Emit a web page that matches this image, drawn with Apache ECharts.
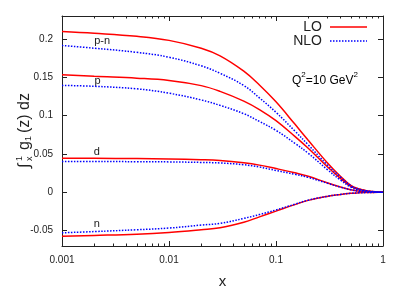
<!DOCTYPE html>
<html><head><meta charset="utf-8">
<script src="https://cdn.jsdelivr.net/npm/echarts@6/dist/echarts.min.js"></script>
<style>html,body{margin:0;padding:0;background:#fff}#c{width:415px;height:291px}</style>
</head><body><div id="c"></div>
<script>
// ---- data ----
const xs = [0.001,0.002,0.005,0.01,0.02,0.03,0.05,0.07,0.1,0.15,0.2,0.3,0.4,0.5,0.6,0.7,0.8,0.9,1.0];
const pnLO  = [0.2098,0.2075,0.2035,0.1982,0.188,0.178,0.158,0.140,0.118,0.089,0.068,0.039,0.021,0.009,0.0045,0.0022,0.001,0.0003,0];
const pLO   = [0.1535,0.1513,0.1489,0.1459,0.1392,0.1317,0.119,0.108,0.0935,0.073,0.0575,0.0337,0.0183,0.0078,0.0039,0.0019,0.0009,0.0003,0];
const dLO   = [0.0445,0.0444,0.0441,0.0436,0.0426,0.0415,0.0385,0.0355,0.031,0.0255,0.021,0.0125,0.007,0.0035,0.0015,0.0007,0.0003,0.0001,0];
const nLO   = [-0.0572,-0.0562,-0.0546,-0.0523,-0.0488,-0.0463,-0.039,-0.032,-0.0245,-0.016,-0.0105,-0.0053,-0.0027,-0.0012,-0.0006,-0.0003,-0.0001,0,0];
const pnNLO = [0.1915,0.188,0.1826,0.1762,0.165,0.1553,0.1394,0.1232,0.1044,0.080,0.062,0.036,0.020,0.0088,0.004,0.002,0.001,0.0003,0];
const pNLO  = [0.1395,0.1383,0.135,0.1293,0.1205,0.1134,0.1026,0.0924,0.0808,0.064,0.051,0.030,0.016,0.007,0.003,0.0015,0.0007,0.0002,0];
const dNLO  = [0.0401,0.0401,0.040,0.0397,0.039,0.0383,0.036,0.033,0.0285,0.0235,0.0195,0.012,0.0068,0.0034,0.0015,0.0007,0.0003,0.0001,0];
const nNLO  = [-0.0528,-0.0512,-0.0488,-0.0466,-0.0427,-0.0405,-0.034,-0.029,-0.023,-0.0155,-0.0102,-0.0052,-0.0027,-0.0012,-0.0006,-0.0003,-0.0001,0,0];

const xMajor = [0.001,0.01,0.1,1];
const xMajorLabels = ['0.001','0.01','0.1','1'];
const xMinor = [0.002,0.003,0.004,0.005,0.006,0.007,0.008,0.009,0.02,0.03,0.04,0.05,0.06,0.07,0.08,0.09,0.2,0.3,0.4,0.5,0.6,0.7,0.8,0.9];
const yTicks = [-0.05,0,0.05,0.1,0.15,0.2];
const curveNames = ['p-n','p','d','n'];
const curveLabelX = [0.00237,0.00215,0.00212,0.00212];
const curveLabelY = [0.198,0.1457,0.0521,-0.0408];

const FONT = '"Liberation Sans", Arial, Helvetica, sans-serif';
const INK = '#222';
const RED = '#ff0000';
const BLUE = '#0000ff';

const chart = echarts.init(document.getElementById('c'), null, {renderer:'canvas'});
const gridRect = {left:62, right:32, top:16, bottom:45, containLabel:false, outerBoundsMode:'none'};

function xAxisDef(gridIndex, position, values, len, showLine, labels) {
  return {
    type:'log', logBase:10, gridIndex, position, min:0.001, max:1,
    axisLine:{show:showLine, onZero:false, lineStyle:{color:INK, width:1}},
    axisTick:{show:true, inside:true, length:len, customValues:values, lineStyle:{color:INK, width:1}},
    axisLabel:labels ? {
      show:true, customValues:xMajor, margin:9, fontSize:10, color:INK, fontFamily:FONT,
      formatter:v => xMajorLabels[Math.round(Math.log10(v)) + 3]
    } : {show:false},
    splitLine:{show:false}, minorTick:{show:false}, minorSplitLine:{show:false},
    name: labels ? 'x' : '', nameLocation:'middle', nameGap:28,
    nameTextStyle:{fontSize:15, color:INK, fontFamily:FONT}
  };
}
function yAxisDef(gridIndex, position, showTicks, labels) {
  return {
    type:'value', gridIndex, position, min:-0.07, max:0.23,
    axisLine:{show:showTicks, onZero:false, lineStyle:{color:INK, width:1}},
    axisTick:{show:showTicks, inside:true, length:5, customValues:yTicks, lineStyle:{color:INK, width:1}},
    axisLabel:labels ? {
      show:true, customValues:yTicks, margin:9, fontSize:10, color:INK, fontFamily:FONT,
      formatter:v => String(parseFloat(v.toFixed(3)))
    } : {show:false},
    splitLine:{show:false}
  };
}

function mk(vals) { return xs.map((x,i) => [x, vals[i]]); }
function lineSeries(name, vals, color, dotted) {
  return {
    name, type:'line', xAxisIndex:0, yAxisIndex:0, data:mk(vals),
    showSymbol:false, symbol:'none', smooth:0.4,
    lineStyle:{color, width:1.5, type: dotted ? [1.5,1.5] : 'solid'},
    silent:true, animation:false, z: dotted ? 3 : 2
  };
}

chart.setOption({
  animation:false,
  backgroundColor:'#fff',
  grid:[Object.assign({}, gridRect), Object.assign({}, gridRect)],
  xAxis:[
    xAxisDef(0,'bottom',xMajor,5,true,true),
    xAxisDef(0,'top',xMajor,5,true,false),
    xAxisDef(1,'bottom',xMinor,2.5,false,false),
    xAxisDef(1,'top',xMinor,2.5,false,false)
  ],
  yAxis:[
    yAxisDef(0,'left',true,true),
    yAxisDef(0,'right',true,false),
    yAxisDef(1,'left',false,false)
  ],
  series:[
    lineSeries('LO p-n', pnLO, RED, false),
    lineSeries('LO p', pLO, RED, false),
    lineSeries('LO d', dLO, RED, false),
    lineSeries('LO n', nLO, RED, false),
    lineSeries('NLO p-n', pnNLO, BLUE, true),
    lineSeries('NLO p', pNLO, BLUE, true),
    lineSeries('NLO d', dNLO, BLUE, true),
    lineSeries('NLO n', nNLO, BLUE, true)
  ]
});

function txt(text, x, y, size, align, valign) {
  return {type:'text', x, y, silent:true,
    style:{text, font: size + 'px ' + FONT, fill:INK, align, verticalAlign:valign, textAlign:align, textVerticalAlign:valign}};
}

const g = [];
curveNames.forEach((n,i) => {
  const p = chart.convertToPixel({gridIndex:0}, [curveLabelX[i], curveLabelY[i]]);
  g.push(txt(n, p[0], p[1], 11, 'center', 'middle'));
});
// legend
g.push(txt('LO', 322, 27, 14, 'right', 'middle'));
g.push({type:'line', silent:true, shape:{x1:330,y1:27,x2:367,y2:27}, style:{stroke:RED, lineWidth:1.5}});
g.push(txt('NLO', 322, 41, 14, 'right', 'middle'));
g.push({type:'line', silent:true, shape:{x1:330,y1:41,x2:367,y2:41}, style:{stroke:BLUE, lineWidth:1.5, lineDash:[1.5,1.5]}});
// Q^2 annotation
g.push({type:'text', x:325, y:79, silent:true, style:{
  text:'{a|Q}{s|2}{a|=10 GeV}{s|2}', align:'center', verticalAlign:'middle', textAlign:'center', textVerticalAlign:'middle',
  rich:{a:{fontSize:12, fontFamily:FONT, color:INK, lineHeight:16, verticalAlign:'bottom'},
        s:{fontSize:8, fontFamily:FONT, color:INK, lineHeight:10, verticalAlign:'top'}}
}});
// y-axis title (rotated, reads bottom to top)
g.push({type:'group', x:25, y:129, rotation:Math.PI/2, silent:true, children:[
  txt('\u222B', -39, 0, 16, 'left', 'middle'),
  txt('1', -32, -5, 9, 'left', 'middle'),
  txt('x', -32, 5, 9, 'left', 'middle'),
  txt('g', -21, 0, 16, 'left', 'middle'),
  txt('1', -12, 4, 9, 'left', 'middle'),
  txt('(z) dz', -4, 0, 16, 'left', 'middle')
]});
chart.setOption({graphic:g});
</script></body></html>
